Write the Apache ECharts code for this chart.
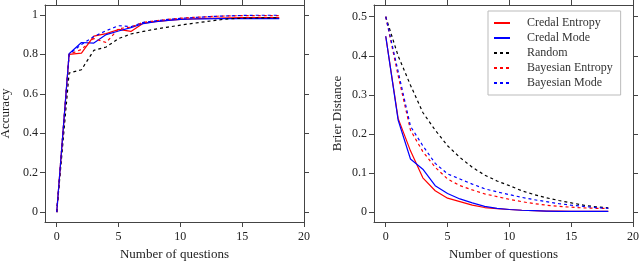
<!DOCTYPE html>
<html>
<head>
<meta charset="utf-8">
<script src="https://cdn.jsdelivr.net/npm/echarts@6/dist/echarts.min.js"></script>
<style>html,body{margin:0;padding:0;background:#fff;}#c{width:640px;height:261px;}</style>
</head>
<body>
<div id="c"></div>
<script>
const questions = [0,1,2,3,4,5,6,7,8,9,10,11,12,13,14,15,16,17,18];
const xTicks = [0,5,10,15,20];

// Accuracy (left)
const accCredalEntropy = [0,0.80,0.806,0.892,0.905,0.926,0.916,0.958,0.966,0.972,0.977,0.980,0.982,0.984,0.985,0.986,0.986,0.986,0.986];
const accCredalMode    = [0,0.803,0.860,0.857,0.900,0.918,0.935,0.956,0.966,0.972,0.977,0.979,0.980,0.981,0.981,0.981,0.981,0.981,0.981];
const accRandom        = [0,0.705,0.722,0.82,0.837,0.88,0.903,0.916,0.928,0.938,0.948,0.957,0.965,0.974,0.980,0.983,0.984,0.985,0.985];
const accBayesEntropy  = [0,0.80,0.825,0.88,0.86,0.93,0.938,0.962,0.970,0.977,0.983,0.987,0.990,0.993,0.995,0.996,0.996,0.996,0.996];
const accBayesMode     = [0,0.80,0.85,0.89,0.92,0.945,0.94,0.962,0.970,0.977,0.982,0.986,0.990,0.993,0.995,0.997,0.998,0.998,0.998];

// Brier distance (right)
const brCredalEntropy = [0.45,0.24,0.157,0.088,0.055,0.036,0.027,0.018,0.012,0.009,0.007,0.005,0.004,0.003,0.003,0.002,0.002,0.002,0.002];
const brCredalMode    = [0.45,0.236,0.136,0.11,0.068,0.048,0.034,0.024,0.015,0.010,0.007,0.005,0.004,0.003,0.002,0.002,0.002,0.002,0.002];
const brRandom        = [0.5,0.40,0.325,0.255,0.21,0.17,0.14,0.115,0.095,0.08,0.068,0.055,0.045,0.037,0.03,0.024,0.018,0.014,0.011];
const brBayesEntropy  = [0.5,0.35,0.21,0.155,0.115,0.085,0.068,0.057,0.047,0.04,0.033,0.027,0.022,0.018,0.015,0.013,0.011,0.010,0.010];
const brBayesMode     = [0.5,0.36,0.22,0.17,0.125,0.098,0.085,0.072,0.06,0.052,0.045,0.038,0.032,0.027,0.022,0.018,0.015,0.012,0.010];

const accTicks = [0,0.2,0.4,0.6,0.8,1];
const brTicks = [0,0.1,0.2,0.3,0.4,0.5];

const names = ['Credal Entropy','Credal Mode','Random','Bayesian Entropy','Bayesian Mode'];
const colors = ['#ff0000','#0000ff','#000000','#ff0000','#0000ff'];
const types = ['solid','solid','dashed','dashed','dashed'];

const FONT = '"Liberation Serif", "DejaVu Serif", serif';
const frameColor = '#444';
const txt = '#222';

function zip(ys){ return questions.map((q,i)=>[q, ys[i]]); }

function xAxes(gi){
  const base = {type:'value', gridIndex:gi, min:-0.95, max:20,
    axisLine:{show:true, onZero:false, lineStyle:{color:frameColor,width:1}},
    axisTick:{show:true, inside:false, length:5, customValues:xTicks, lineStyle:{color:frameColor}},
    splitLine:{show:false}};
  return [
    Object.assign({}, base, {position:'bottom',
      axisLabel:{show:true, margin:9, fontFamily:FONT, fontSize:12, color:txt, customValues:xTicks},
      name:'Number of questions', nameLocation:'middle', nameGap:23,
      nameTextStyle:{fontFamily:FONT, fontSize:13, color:txt}}),
    Object.assign({}, base, {position:'top', axisLabel:{show:false}})
  ];
}
function yAxes(gi, min, max, ticks, name, gap){
  const base = {type:'value', gridIndex:gi, min:min, max:max,
    axisLine:{show:true, onZero:false, lineStyle:{color:frameColor,width:1}},
    axisTick:{show:true, inside:false, length:5, customValues:ticks, lineStyle:{color:frameColor}},
    splitLine:{show:false}};
  return [
    Object.assign({}, base, {position:'left',
      axisLabel:{show:true, margin:7, fontFamily:FONT, fontSize:12, color:txt, customValues:ticks,
        formatter:v=>String(Math.round(v*1000)/1000)},
      name:name, nameLocation:'middle', nameGap:gap,
      nameTextStyle:{fontFamily:FONT, fontSize:13, color:txt}}),
    Object.assign({}, base, {position:'right', axisLabel:{show:false}})
  ];
}

const accData = [accCredalEntropy, accCredalMode, accRandom, accBayesEntropy, accBayesMode];
const brData = [brCredalEntropy, brCredalMode, brRandom, brBayesEntropy, brBayesMode];

const series = [];
accData.forEach((d,i)=>{
  series.push({type:'line', name:names[i], xAxisIndex:0, yAxisIndex:0, data:zip(d),
    symbol:'none', animation:false,
    lineStyle:{color:colors[i], width:1.2, type: types[i]==='dashed'?[3,3]:'solid'},
    itemStyle:{color:colors[i]}});
});
brData.forEach((d,i)=>{
  series.push({type:'line', name:names[i], xAxisIndex:2, yAxisIndex:2, data:zip(d),
    symbol:'none', animation:false,
    lineStyle:{color:colors[i], width:1.2, type: types[i]==='dashed'?[3,3]:'solid'},
    itemStyle:{color:colors[i]}});
});

const chart = echarts.init(document.getElementById('c'), null, {renderer:'canvas'});
chart.setOption({
  animation:false,
  backgroundColor:'#fff',
  grid:[
    {left:45, right:336, top:5, height:217, containLabel:false, outerBoundsMode:'none'},
    {left:374, right:7, top:5, height:217, containLabel:false, outerBoundsMode:'none'}
  ],
  xAxis: xAxes(0).concat(xAxes(1)),
  yAxis: yAxes(0,-0.05,1.05,accTicks,'Accuracy',33).concat(yAxes(1,-0.025,0.53,brTicks,'Brier Distance',30)),
  legend:{
    data:names, orient:'vertical', left:488, top:11, width:141,
    padding:[6,8,6,5], itemGap:3, itemWidth:16, itemHeight:13,
    backgroundColor:'#fff', borderColor:'#bbb', borderWidth:1, borderRadius:0,
    itemStyle:{color:'rgba(0,0,0,0)', borderWidth:0, opacity:0},
    textStyle:{fontFamily:FONT, fontSize:12, color:'#333', padding:[0,0,0,12]}
  },
  series: series
});
</script>
</body>
</html>
